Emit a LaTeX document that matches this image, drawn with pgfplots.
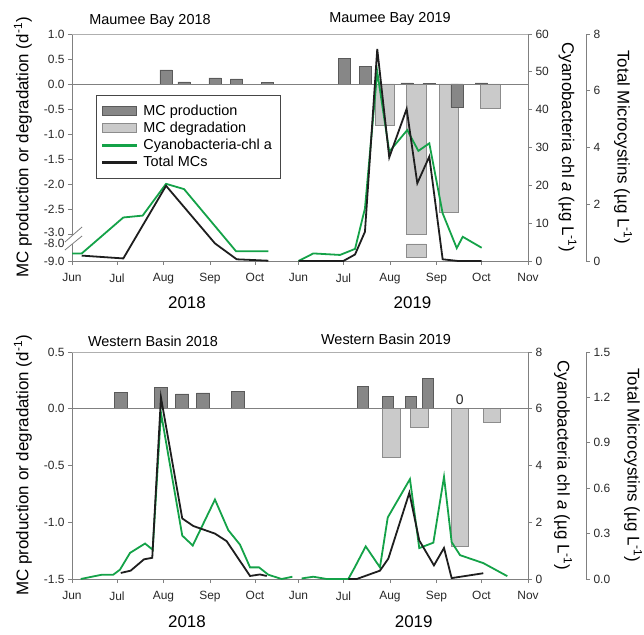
\documentclass[border=0pt]{standalone}
\usepackage{fontspec}
\setmainfont{Liberation Sans}
\usepackage{pgfplots}
\pgfplotsset{compat=1.18}

\definecolor{chlgreen}{RGB}{20,162,72}
\definecolor{mcblack}{RGB}{30,30,30}
\definecolor{prodfill}{RGB}{135,135,135}
\definecolor{proddraw}{RGB}{90,90,90}
\definecolor{degfill}{RGB}{202,202,202}
\definecolor{degdraw}{RGB}{140,140,140}
\definecolor{axgray}{RGB}{128,128,128}
\definecolor{topgray}{RGB}{175,175,175}
\definecolor{legdraw}{RGB}{70,70,70}
\definecolor{txt}{RGB}{40,40,40}

\pgfplotsset{
  base/.style={scale only axis, height=227bp, clip=false,
    axis line style={axgray, line width=0.8bp},
    tick style={axgray, line width=0.8bp},
    tick align=outside, major tick length=4bp,
    ticklabel style={font=\fontsize{12}{14}\selectfont, text=txt},
    xticklabel style={yshift=-5bp},
    label style={font=\fontsize{17}{20}\selectfont, text=black},
  },
  chl/.style={chlgreen, line width=1.8bp},
  mc/.style={mcblack, line width=1.8bp},
  prod/.style={ybar, bar shift=0pt, fill=prodfill, draw=proddraw, line width=0.6bp},
  deg/.style={ybar, bar shift=0pt, fill=degfill, draw=degdraw, line width=0.6bp},
}

\begin{document}
\begin{tikzpicture}
\path[use as bounding box] (0bp,0bp) rectangle (644bp,635bp);

%================= TOP PANEL: Maumee Bay =================
% left axis (rates); y below -3 is a broken scale: -8 -> -3.18, -9 -> -3.54
\begin{axis}[base, width=456bp, at={(72bp,374bp)}, anchor=south west,
  xmin=0, xmax=304, ymin=-3.54, ymax=1,
  axis x line*=bottom, axis y line*=left,
  xtick={0,30,61,92,122,151,181,212,243,273,304},
  xticklabels={Jun,Jul,Aug,Sep,Oct,Jun,Jul,Aug,Sep,Oct,Nov},
  ytick={1,0.5,0,-0.5,-1,-1.5,-2,-2.5,-3,-3.18,-3.54},
  yticklabels={1.0,0.5,0.0,-0.5,-1.0,-1.5,-2.0,-2.5,\raisebox{2.5bp}{-3.0},\raisebox{-2.5bp}{-8.0},-9.0},
  ylabel={MC production or degradation (d\textsuperscript{-1})},
  ylabel style={at={(rel axis cs:-0.1075,0.5)}, anchor=center},
]
% axis break
\fill[white] (axis cs:-4.7,-3.16) -- (axis cs:6.7,-2.86) -- (axis cs:6.7,-3.04) -- (axis cs:-4.7,-3.32) -- cycle;
\draw[axgray, line width=0.8bp] (axis cs:-4.7,-3.16) -- (axis cs:6.7,-2.86);
\draw[axgray, line width=0.8bp] (axis cs:-4.7,-3.32) -- (axis cs:6.7,-3.04);
% MC degradation
\addplot[deg, bar width=12.9] coordinates {(208.7,-0.83) (229.5,-3.0) (251.2,-2.57) (278.9,-0.49)};
% lower part of the broken bar (value -8.79)
\addplot[fill=degfill, draw=degdraw, line width=0.6bp] coordinates {(223.05,-3.2) (235.95,-3.2) (235.95,-3.464) (223.05,-3.464) (223.05,-3.2)};
% MC production
\addplot[prod, bar width=8.2] coordinates {(62.7,0.28) (74.7,0.04) (95.3,0.12) (109.7,0.10) (130.3,0.03)
  (181.7,0.51) (195.7,0.35) (223.3,0.02) (238,0.01) (256.7,-0.47) (272.9,0.02)};
\addplot[axgray, line width=0.8bp] coordinates {(0,0) (304,0)};
\end{axis}

% chl a axis
\begin{axis}[base, width=456bp, at={(72bp,374bp)}, anchor=south west,
  xmin=0, xmax=304, ymin=0, ymax=60,
  axis x line*=top, axis y line*=right, xtick=\empty,
  x axis line style={draw=topgray},
  ytick={0,10,20,30,40,50,60}, yticklabels={0,10,20,30,40,50,60},
  ylabel={Cyanobacteria chl \textit{a} (µg L\textsuperscript{-1})},
  ylabel style={at={(rel axis cs:1.0866,0.5)}, anchor=center, rotate=180},
]
\addplot[chl] coordinates {(0,2.0) (6.5,2.0) (34.2,11.5) (47.1,12.0) (62.7,20.4) (74.7,19.0) (109.3,2.6) (130.9,2.6)};
\addplot[chl] coordinates {(151,0) (160.9,2.0) (178.7,1.6) (188.7,3.2) (195.3,13.9) (203.5,50.0) (211.5,28.9)
  (223.5,34.6) (230.9,29.1) (238.2,31.1) (247.1,12.6) (256.5,3.4) (260.5,6.4) (273.1,3.5)};
\end{axis}

% total MC axis
\begin{axis}[base, width=514bp, at={(72bp,374bp)}, anchor=south west,
  xmin=0, xmax=342.67, ymin=0, ymax=8,
  axis x line=none, axis y line*=right,
  ytick={0,2,4,6,8}, yticklabels={0,2,4,6,8},
  ylabel={Total Microcystins (µg L\textsuperscript{-1})},
  ylabel style={at={(rel axis cs:1.072,0.5)}, anchor=center, rotate=180},
  legend cell align=left,
  legend style={at={(0.0467,0.7313)}, anchor=north west, draw=legdraw,
    fill=white, font=\fontsize{14.5}{16.5}\selectfont, inner xsep=6bp, inner ysep=7bp,
    row sep=0bp, column sep=4bp, nodes={inner sep=2.6bp, text=black}},
]
\addplot[mc, forget plot] coordinates {(6.5,0.19) (34.2,0.09) (62.7,2.65) (95.3,0.62) (109.8,0.06) (130.9,0.01)};
\addplot[mc, forget plot] coordinates {(151,0) (180.9,0) (188.7,0.23) (195.3,1.03) (203.5,7.47) (211.5,3.65) (223.1,5.36)
  (230.2,2.74) (238.2,3.68) (247.1,0.06) (257.5,0) (273.1,0)};
\addlegendimage{legend image code/.code={\draw[fill=prodfill,draw=proddraw,line width=0.6bp] (0bp,-4.5bp) rectangle (34bp,4.5bp);}}
\addlegendentry{MC production}
\addlegendimage{legend image code/.code={\draw[fill=degfill,draw=degdraw,line width=0.6bp] (0bp,-4.5bp) rectangle (34bp,4.5bp);}}
\addlegendentry{MC degradation}
\addlegendimage{legend image code/.code={\fill[chlgreen] (0bp,-0.9bp) rectangle (34bp,0.9bp);}}
\addlegendentry{Cyanobacteria-chl a}
\addlegendimage{legend image code/.code={\fill[mcblack] (0bp,-0.9bp) rectangle (34bp,0.9bp);}}
\addlegendentry{Total MCs}
\end{axis}

%================= BOTTOM PANEL: Western Basin =================
\begin{axis}[base, width=456bp, at={(72bp,56bp)}, anchor=south west,
  xmin=0, xmax=304, ymin=-1.5, ymax=0.5,
  axis x line*=bottom, axis y line*=left,
  xtick={0,30,61,92,122,151,181,212,243,273,304},
  xticklabels={Jun,Jul,Aug,Sep,Oct,Jun,Jul,Aug,Sep,Oct,Nov},
  ytick={0.5,0,-0.5,-1,-1.5},
  yticklabels={0.5,0.0,-0.5,-1.0,-1.5},
  ylabel={MC production or degradation (d\textsuperscript{-1})},
  ylabel style={at={(rel axis cs:-0.1075,0.5)}, anchor=center},
]
\addplot[deg, bar width=11.5] coordinates {(212.9,-0.427) (231.5,-0.165) (258.5,-1.21) (280,-0.115)};
\addplot[prod, bar width=8.7] coordinates {(32.7,0.144) (59.5,0.19) (73.5,0.13) (87.5,0.14) (110.5,0.15)};
\addplot[prod, bar width=7.3] coordinates {(194.1,0.20) (210.8,0.106) (225.7,0.11) (237.5,0.27)};
\addplot[axgray, line width=0.8bp] coordinates {(0,0) (304,0)};
\node[font=\fontsize{14}{16}\selectfont, text=txt] at (axis cs:258.5,0.082) {0};
\end{axis}

\begin{axis}[base, width=456bp, at={(72bp,56bp)}, anchor=south west,
  xmin=0, xmax=304, ymin=0, ymax=8,
  axis x line*=top, axis y line*=right, xtick=\empty,
  x axis line style={draw=topgray},
  ytick={0,2,4,6,8}, yticklabels={0,2,4,6,8},
  ylabel={Cyanobacteria chl \textit{a} (µg L\textsuperscript{-1})},
  ylabel style={at={(rel axis cs:1.0768,0.5)}, anchor=center, rotate=180},
]
\addplot[chl] coordinates {(5.8,0) (19.8,0.15) (27.5,0.15) (32,0.33) (38.7,0.92) (48.7,1.25) (53.8,1.03)
  (59.3,5.86) (73.5,1.53) (80.5,1.18) (95.3,2.8) (104.2,1.72) (112,1.21) (118.7,0.41) (124.7,0.41)
  (130.9,0.15) (139.8,0) (146.9,0.08)};
\addplot[chl] coordinates {(153.1,0.02) (160.9,0.08) (169.8,0) (184.2,0) (188.7,0.43) (195.8,1.15)
  (205.3,0.41) (210.5,2.17) (225.3,3.52) (231.5,1.09) (240.9,1.28) (248,3.6) (253.1,1.3) (258.7,0.84)
  (274.2,0.56) (290.2,0.1)};
\end{axis}

\begin{axis}[base, width=514bp, at={(72bp,56bp)}, anchor=south west,
  xmin=0, xmax=342.67, ymin=0, ymax=1.5,
  axis x line=none, axis y line*=right,
  ytick={0,0.3,0.6,0.9,1.2,1.5}, yticklabels={0.0,0.3,0.6,0.9,1.2,1.5},
  ylabel={Total Microcystins (µg L\textsuperscript{-1})},
  ylabel style={at={(rel axis cs:1.0914,0.5)}, anchor=center, rotate=180},
]
\addplot[mc] coordinates {(32.5,0.04) (39.1,0.055) (48,0.13) (53.5,0.14) (59.3,1.2) (73.5,0.40) (80.9,0.35)
  (95.3,0.30) (103.1,0.25) (118.7,0.02) (125.3,0.03) (129.8,0.02)};
\addplot[mc] coordinates {(184.2,0) (189.8,0) (205.3,0.055) (210.9,0.135) (224.9,0.57) (231.5,0.255)
  (241.3,0.09) (248,0.205) (253.1,0.006) (274.2,0.038)};
\end{axis}

%================= titles and year labels =================
\node[font=\fontsize{14.5}{17}\selectfont] at (150bp,614bp) {Maumee Bay 2018};
\node[font=\fontsize{14.5}{17}\selectfont] at (390bp,616bp) {Maumee Bay 2019};
\node[font=\fontsize{17}{20}\selectfont] at (187bp,332.5bp) {2018};
\node[font=\fontsize{17}{20}\selectfont] at (412.5bp,332bp) {2019};
\node[font=\fontsize{14.5}{17}\selectfont] at (153bp,293.3bp) {Western Basin 2018};
\node[font=\fontsize{14.5}{17}\selectfont] at (386bp,296bp) {Western Basin 2019};
\node[font=\fontsize{17}{20}\selectfont] at (187bp,13.3bp) {2018};
\node[font=\fontsize{17}{20}\selectfont] at (413.7bp,13.3bp) {2019};
\end{tikzpicture}
\end{document}
